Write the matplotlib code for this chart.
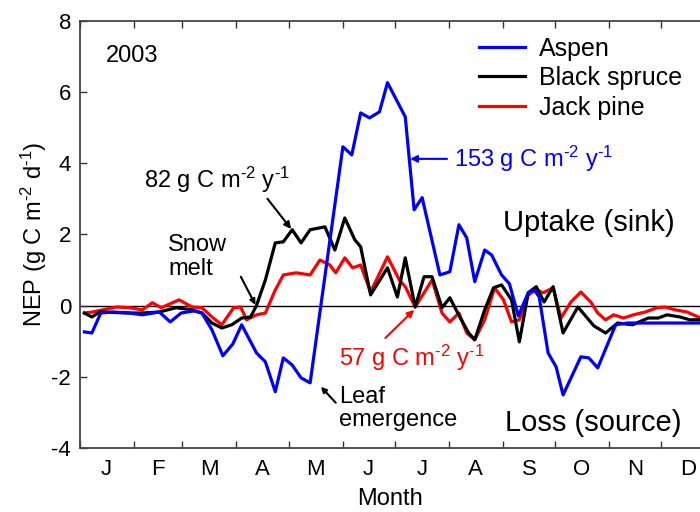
import matplotlib
matplotlib.use("Agg")
import matplotlib.pyplot as plt

plt.rcParams['font.family'] = ['Liberation Sans', 'DejaVu Sans']
plt.rcParams['mathtext.fontset'] = 'custom'
plt.rcParams['mathtext.rm'] = 'Liberation Sans'
plt.rcParams['mathtext.it'] = 'Liberation Sans:italic'
plt.rcParams['mathtext.default'] = 'regular'
plt.rcParams['axes.unicode_minus'] = False

# ---- data (day of year, NEP g C m-2 d-1) ----
aspen_day = [2.8, 7.1, 12.2, 19.0, 28.7, 36.1, 45.8, 52.1, 58.3, 65.7, 70.3, 76.0, 82.3, 88.0, 93.1,
             101.6, 106.7, 112.4, 117.0, 122.1, 127.2, 132.4, 151.2, 156.3, 161.4, 166.5, 172.2, 176.8,
             187.0, 192.1, 196.7, 206.9, 212.6, 217.8, 222.3, 226.9, 232.6, 236.6, 242.3, 246.8, 251.9,
             257.6, 261.1, 263.9, 269.0, 273.6, 277.6, 287.8, 292.4, 297.5, 307.8, 314.6, 330.0, 345.0, 356.2]
aspen_nep = [-0.74, -0.77, -0.21, -0.18, -0.21, -0.26, -0.18, -0.46, -0.21, -0.15, -0.21, -0.68, -1.41, -1.08, -0.54,
             -1.33, -1.58, -2.42, -1.47, -1.67, -2.03, -2.17, 4.46, 4.23, 5.41, 5.27, 5.44, 6.26,
             5.30, 2.69, 3.03, 0.86, 0.95, 2.27, 1.90, 0.67, 1.56, 1.42, 0.86, 0.61, -0.29,
             0.36, 0.44, 0.24, -1.33, -1.72, -2.51, -1.44, -1.47, -1.75, -0.54, -0.49, -0.49, -0.49, -0.49]

spruce_day = [2.8, 7.1, 11.6, 28.7, 36.1, 45.8, 55.5, 64.6, 70.3, 76.0, 81.7, 87.4, 93.1, 98.2, 101.6,
              106.7, 112.4, 117.0, 122.1, 127.2, 132.4, 140.9, 146.6, 152.3, 158.0, 161.4, 167.1, 176.8,
              182.5, 187.0, 192.7, 197.8, 202.4, 208.1, 212.6, 218.3, 223.4, 226.9, 232.6, 237.7, 242.3,
              248.0, 252.5, 257.6, 262.2, 266.7, 271.9, 277.6, 286.1, 295.3, 302.0, 308.9, 317.4, 326.5,
              332.2, 337.3, 344.7, 350.4, 356.2]
spruce_nep = [-0.21, -0.32, -0.18, -0.21, -0.21, -0.18, -0.06, -0.12, -0.21, -0.49, -0.63, -0.54, -0.35, -0.32, 0.0,
              0.72, 1.76, 1.79, 2.13, 1.76, 2.13, 2.21, 1.56, 2.46, 1.85, 1.65, 0.30, 1.06,
              0.24, 1.34, -0.04, 0.81, 0.81, -0.06, 0.22, -0.32, -0.77, -0.96, -0.12, 0.50, 0.58,
              0.16, -1.02, 0.36, 0.53, 0.10, 0.53, -0.77, -0.04, -0.57, -0.77, -0.49, -0.54, -0.35,
              -0.35, -0.26, -0.32, -0.40, -0.40]

pine_day = [2.8, 7.6, 13.3, 21.3, 28.7, 36.1, 41.8, 46.9, 57.2, 64.6, 70.3, 76.0, 81.7, 88.5, 92.5,
            95.9, 101.6, 106.7, 112.4, 117.0, 124.4, 132.4, 138.0, 143.7, 147.1, 152.3, 156.8, 161.4,
            167.1, 176.8, 183.6, 187.0, 192.7, 202.4, 208.1, 212.6, 217.8, 222.3, 226.9, 232.6, 238.3,
            243.4, 248.0, 252.5, 257.6, 262.2, 266.2, 271.9, 276.4, 282.1, 287.8, 293.5, 297.5, 302.0,
            306.6, 312.3, 318.0, 324.8, 331.6, 336.2, 341.9, 348.7, 356.2]
pine_nep = [-0.21, -0.18, -0.12, -0.04, -0.06, -0.12, 0.08, -0.06, 0.16, -0.04, -0.06, -0.32, -0.54, -0.06, -0.04,
            -0.40, -0.26, -0.21, 0.44, 0.86, 0.92, 0.86, 1.28, 1.14, 0.92, 1.34, 1.06, 1.14,
            0.38, 1.37, 0.72, 0.53, -0.04, 0.72, -0.21, -0.46, -0.21, -0.77, -0.96, -0.40, 0.50,
            0.16, -0.46, -0.40, 0.30, 0.44, 0.36, 0.50, -0.35, 0.10, 0.38, 0.10, -0.21, -0.40,
            -0.26, -0.35, -0.26, -0.18, -0.06, -0.04, -0.12, -0.18, -0.34]

month_start = [0, 31, 59, 90, 120, 151, 181, 212, 243, 273, 304, 334, 365]
month_labels = ['J', 'F', 'M', 'A', 'M', 'J', 'J', 'A', 'S', 'O', 'N', 'D']
yticks = [-4, -2, 0, 2, 4, 6, 8]

UNIT_Y = r' g C m$^{\text{-2}}$ y$^{\text{-1}}$'

fig = plt.figure(figsize=(7.0, 5.12), dpi=100)
ax = fig.add_axes([79.5 / 700, 64 / 512, 1 - 79.5 / 700, (448 - 20.7) / 512])

ax.axhline(0, color='black', lw=1.0, zorder=1)
ax.plot(pine_day, pine_nep, color='#ff0000', lw=2.3, label='Jack pine', zorder=3)
ax.plot(spruce_day, spruce_nep, color='black', lw=2.3, label='Black spruce', zorder=4)
ax.plot(aspen_day, aspen_nep, color='#0000ff', lw=2.3, label='Aspen', zorder=5)

ax.set_xlim(2.8, 356.2)
ax.set_ylim(-4, 8)
ax.set_yticks(yticks)
ax.set_yticklabels([str(v) for v in yticks])
ax.set_xticks(month_start[:-1])
ax.set_xticklabels([])
mids = [(month_start[i] + month_start[i + 1]) / 2 for i in range(12)]
ax.set_xticks(mids, minor=True)
ax.set_xticklabels(month_labels, minor=True)
ax.tick_params(axis='x', which='minor', length=0, labelsize=16, pad=8)
ax.tick_params(axis='x', which='major', direction='in', length=5, top=True, width=1, color='#333333')
ax.tick_params(axis='y', direction='in', length=5, labelsize=16, width=1, color='#333333', pad=6)
for s in ['left', 'bottom', 'top']:
    ax.spines[s].set_color('#444444')
    ax.spines[s].set_linewidth(1.3)
ax.spines['right'].set_visible(False)

ax.set_xlabel('Month', fontsize=17, labelpad=6)
ax.set_ylabel(r'NEP (g C m$^{\text{-2}}$ d$^{\text{-1}}$)', fontsize=17, labelpad=2)

h, l = ax.get_legend_handles_labels()
order = [2, 1, 0]
ax.legend([h[i] for i in order], [l[i] for i in order], loc='upper right', bbox_to_anchor=(0.995, 0.998),
          frameon=False, fontsize=18, handlelength=1.85, handletextpad=0.55, labelspacing=0.22,
          borderaxespad=0.2)

ax.text(15, 7.0, '2003', fontsize=17, va='center', ha='left')
ax.text(215, 4.12, '153' + UNIT_Y, color='#0000ff', fontsize=17, va='center', ha='left')
ax.annotate('', xy=(189.8, 4.12), xytext=(211, 4.12),
            arrowprops=dict(arrowstyle='-|>', color='#0000ff', lw=1.5, mutation_scale=10, shrinkA=0, shrinkB=0))
ax.text(37.0, 3.53, '82' + UNIT_Y, color='black', fontsize=17, va='center', ha='left')
ax.annotate('', xy=(121.5, 2.15), xytext=(107.9, 3.0),
            arrowprops=dict(arrowstyle='-|>', color='black', lw=1.5, mutation_scale=10, shrinkA=0, shrinkB=0))
ax.text(51, 1.37, 'Snow\nmelt', fontsize=17, va='center', ha='left', linespacing=1.1)
ax.annotate('', xy=(101, 0.02), xytext=(92.6, 0.81),
            arrowprops=dict(arrowstyle='-|>', color='black', lw=1.5, mutation_scale=8, shrinkA=0, shrinkB=0))
ax.text(149, -2.89, 'Leaf\nemergence', fontsize=17, va='center', ha='left', linespacing=1.1)
ax.annotate('', xy=(138.6, -2.28), xytext=(147.1, -2.73),
            arrowprops=dict(arrowstyle='-|>', color='black', lw=1.5, mutation_scale=8, shrinkA=0, shrinkB=0))
ax.text(149, -1.47, '57' + UNIT_Y, color='#ff0000', fontsize=17, va='center', ha='left')
ax.annotate('', xy=(192.1, -0.12), xytext=(175.6, -0.91),
            arrowprops=dict(arrowstyle='-|>', color='#ff0000', lw=1.5, mutation_scale=10, shrinkA=0, shrinkB=0))
ax.text(243, 2.32, 'Uptake (sink)', fontsize=21, va='center', ha='left')
ax.text(244, -3.29, 'Loss (source)', fontsize=21, va='center', ha='left')

fig.savefig('out.png', dpi=100)
